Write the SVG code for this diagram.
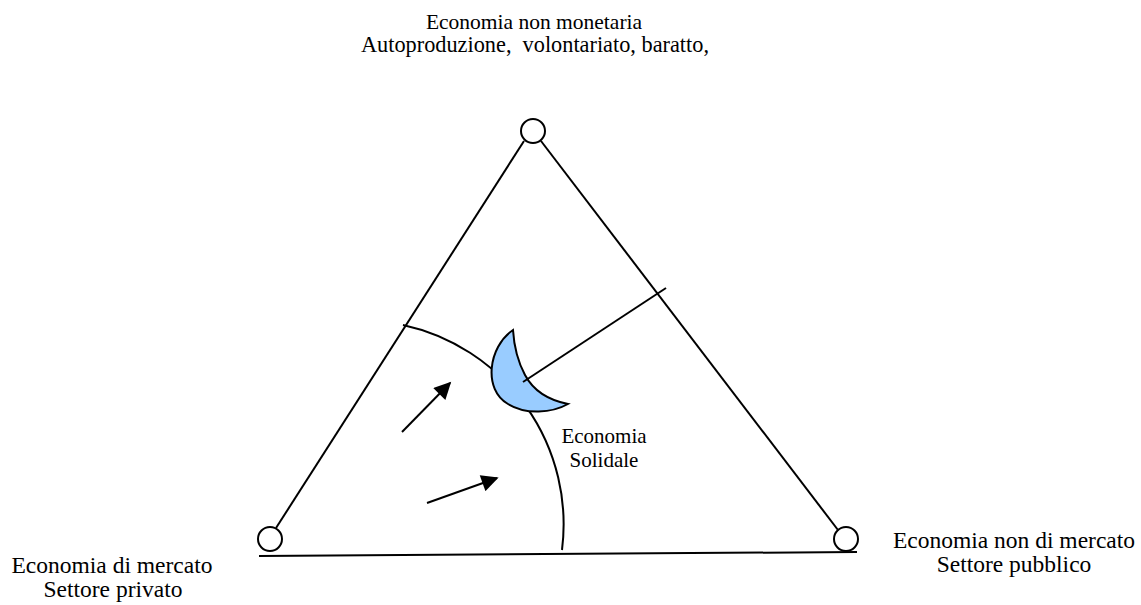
<svg xmlns="http://www.w3.org/2000/svg" width="1141" height="605" viewBox="0 0 1141 605">
<style>
.t{font-family:'Liberation Serif','DejaVu Serif','Times New Roman',serif;font-size:21.5px;fill:#000;text-anchor:middle;white-space:pre}
.s{font-size:23.5px}
.c{font-size:21px}
.ln{fill:none;stroke:#000;stroke-width:2}
.node{fill:#fff;stroke:#000;stroke-width:2}
</style>
<defs>
<marker id="ah" viewBox="0 0 10 10" refX="9" refY="5" markerWidth="19" markerHeight="17" markerUnits="userSpaceOnUse" orient="auto"><path d="M0,0 L10,5 L0,10 Z" fill="#000"/></marker>
</defs>
<rect width="1141" height="605" fill="#fff"/>
<g id="connectors">
<line class="ln" x1="524" y1="141" x2="276" y2="528"/>
<line class="ln" x1="541" y1="141" x2="838" y2="530"/>
<line class="ln" x1="259" y1="556" x2="857" y2="552"/>
<path class="ln" d="M403,325 A204,204 0 0 1 562,550"/>
<line class="ln" x1="402" y1="432" x2="450" y2="383" marker-end="url(#ah)"/>
<line class="ln" x1="427" y1="503" x2="497" y2="478" marker-end="url(#ah)"/>
</g>
<g id="crescent">
<path d="M513,330 C488,347 483,390 508,404 C526,415 552,413 568,404 C548,400 533,390 525,375 C518,362 514,346 513,330 Z" fill="#99ccff" stroke="#000" stroke-width="2"/>
<line class="ln" x1="523" y1="382" x2="666" y2="288"/>
</g>
<g id="node-top"><circle class="node" cx="533" cy="131" r="12"/>
<text class="t" x="534" y="29">Economia non monetaria</text>
<text class="t" x="535" y="52" style="font-size:22.3px" xml:space="preserve">Autoproduzione,  volontariato, baratto,</text></g>
<g id="node-left"><circle class="node" cx="270" cy="539" r="12"/>
<text class="t s" x="112" y="573">Economia di mercato</text>
<text class="t s" x="113" y="597">Settore privato</text></g>
<g id="node-right"><circle class="node" cx="846" cy="539" r="12"/>
<text class="t s" x="1014" y="548">Economia non di mercato</text>
<text class="t s" x="1014" y="572">Settore pubblico</text></g>
<g id="label-center">
<text class="t c" x="604" y="443">Economia</text>
<text class="t c" x="604" y="467">Solidale</text></g>
</svg>
